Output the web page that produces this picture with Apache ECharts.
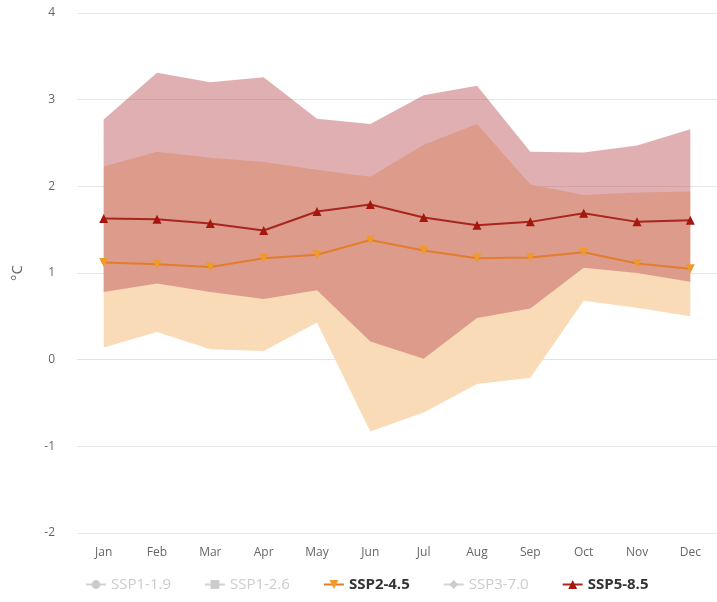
<!DOCTYPE html>
<html lang="en">
<head>
    <meta charset="UTF-8">
    <title>Monthly temperature change</title>
    <style>
        html, body { margin: 0; padding: 0; background: #fff; }
    </style>
</head>
<body>
<div id="main" style="width: 717px;height:602px;"></div>
<script src="https://cdn.jsdelivr.net/npm/echarts@6/dist/echarts.min.js"></script>
<script>
    var months = ['Jan', 'Feb', 'Mar', 'Apr', 'May', 'Jun', 'Jul', 'Aug', 'Sep', 'Oct', 'Nov', 'Dec'];
    var yTicks = [-2, -1, 0, 1, 2, 3, 4];

    // median lines
    var ssp245 = [1.12, 1.10, 1.07, 1.17, 1.21, 1.38, 1.26, 1.17, 1.18, 1.24, 1.11, 1.05];
    var ssp585 = [1.63, 1.62, 1.57, 1.49, 1.71, 1.79, 1.64, 1.55, 1.59, 1.69, 1.59, 1.61];

    // ranges
    var ssp245Low = [0.14, 0.32, 0.12, 0.10, 0.43, -0.83, -0.61, -0.28, -0.21, 0.68, 0.60, 0.50];
    var ssp245High = [2.23, 2.40, 2.33, 2.28, 2.19, 2.11, 2.48, 2.72, 2.02, 1.90, 1.93, 1.94];
    var ssp585Low = [0.78, 0.88, 0.78, 0.70, 0.80, 0.21, 0.01, 0.48, 0.59, 1.06, 1.00, 0.90];
    var ssp585High = [2.77, 3.31, 3.20, 3.26, 2.78, 2.72, 3.05, 3.16, 2.40, 2.39, 2.47, 2.66];

    function diff(hi, lo) {
        var out = [];
        for (var i = 0; i < hi.length; i++) {
            out.push(+(hi[i] - lo[i]).toFixed(2));
        }
        return out;
    }

    var myChart = echarts.init(document.getElementById('main'));

    var font = '"Open Sans", "DejaVu Sans", sans-serif';

    var option = {
        animation: false,
        textStyle: { fontFamily: font },
        grid: {
            left: 77,
            right: -6,
            top: 13,
            bottom: 69
        },
        legend: {
            left: 80,
            top: 572,
            itemWidth: 20,
            itemHeight: 11,
            itemGap: 33,
            inactiveColor: '#cccccc',
            textStyle: {
                fontSize: 15,
                color: '#333',
                fontFamily: font
            },
            data: [
                { name: 'SSP1-1.9' },
                { name: 'SSP1-2.6' },
                { name: 'SSP2-4.5', textStyle: { fontWeight: 'bold', color: '#333' } },
                { name: 'SSP3-7.0' },
                { name: 'SSP5-8.5', textStyle: { fontWeight: 'bold', color: '#333' } }
            ],
            selected: {
                'SSP1-1.9': false,
                'SSP1-2.6': false,
                'SSP3-7.0': false
            }
        },
        xAxis: {
            type: 'category',
            data: months,
            boundaryGap: true,
            axisLine: { show: true, lineStyle: { color: '#e3e3e3' } },
            axisTick: { show: false },
            axisLabel: { color: '#666', fontSize: 12, margin: 14 }
        },
        yAxis: {
            type: 'value',
            min: yTicks[0],
            max: yTicks[yTicks.length - 1],
            interval: 1,
            name: '°C',
            nameLocation: 'middle',
            nameGap: 52,
            nameRotate: 90,
            nameTextStyle: { color: '#666', fontSize: 15 },
            axisLine: { show: false },
            axisTick: { show: false },
            axisLabel: { color: '#666', fontSize: 12, margin: 22 },
            splitLine: { lineStyle: { color: '#e6e6e6' } }
        },
        series: [
            {
                name: 'ssp245-base',
                type: 'line',
                stack: 'r245',
                stackStrategy: 'all',
                data: ssp245Low,
                symbol: 'none',
                lineStyle: { opacity: 0 },
                silent: true
            },
            {
                name: 'ssp245-range',
                type: 'line',
                stack: 'r245',
                stackStrategy: 'all',
                data: diff(ssp245High, ssp245Low),
                symbol: 'none',
                lineStyle: { opacity: 0 },
                areaStyle: { color: '#fadbb8', opacity: 1 },
                silent: true
            },
            {
                name: 'ssp585-base',
                type: 'line',
                stack: 'r585',
                stackStrategy: 'all',
                data: ssp585Low,
                symbol: 'none',
                lineStyle: { opacity: 0 },
                silent: true
            },
            {
                name: 'ssp585-range',
                type: 'line',
                stack: 'r585',
                stackStrategy: 'all',
                data: diff(ssp585High, ssp585Low),
                symbol: 'none',
                lineStyle: { opacity: 0 },
                areaStyle: { color: 'rgb(185,78,84)', opacity: 0.45 },
                silent: true
            },
            {
                name: 'SSP1-1.9',
                type: 'line',
                data: [],
                symbol: 'circle',
                symbolSize: 8,
                itemStyle: { color: '#ccc' },
                lineStyle: { color: '#ccc' }
            },
            {
                name: 'SSP1-2.6',
                type: 'line',
                data: [],
                symbol: 'rect',
                symbolSize: 8,
                itemStyle: { color: '#ccc' },
                lineStyle: { color: '#ccc' }
            },
            {
                name: 'SSP2-4.5',
                type: 'line',
                data: ssp245,
                symbol: 'triangle',
                symbolRotate: 180,
                symbolSize: 9,
                itemStyle: { color: '#ef9a2a' },
                lineStyle: { color: '#e27d2c', width: 2 },
                z: 5
            },
            {
                name: 'SSP3-7.0',
                type: 'line',
                data: [],
                symbol: 'diamond',
                symbolSize: 8,
                itemStyle: { color: '#ccc' },
                lineStyle: { color: '#ccc' }
            },
            {
                name: 'SSP5-8.5',
                type: 'line',
                data: ssp585,
                symbol: 'triangle',
                symbolSize: 9,
                itemStyle: { color: '#a5160f' },
                lineStyle: { color: '#a8261c', width: 2 },
                z: 5
            }
        ]
    };

    myChart.setOption(option);
</script>
</body>
</html>
